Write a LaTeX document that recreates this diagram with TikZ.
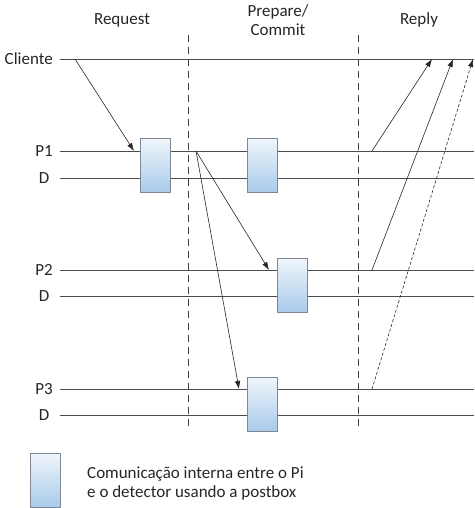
\documentclass[tikz,border=0pt]{standalone}
\usepackage{fontspec}
\setmainfont{Carlito}
\usetikzlibrary{arrows.meta}
\definecolor{boxtop}{HTML}{F0F5FB}
\definecolor{boxbot}{HTML}{A9CBEA}
\definecolor{boxedge}{HTML}{7D8894}
\begin{document}
\begin{tikzpicture}[x=1pt,y=-1pt,
  lbl/.style={font=\fontsize{17}{22}\selectfont, text=black!85, inner sep=0pt},
  tl/.style={draw=black!70, line width=0.8pt},
  sep/.style={draw=black!75, line width=0.9pt, dash pattern=on 7pt off 5pt},
  box/.style={draw=boxedge, line width=0.9pt, top color=boxtop, bottom color=boxbot, minimum width=30pt, minimum height=54pt, inner sep=0pt},
  msg/.style={draw=black!85, line width=0.6pt, -{Latex[length=8pt,width=5.5pt]}},
  ]
\useasboundingbox (0,0) rectangle (474,508);
% headers
\node[lbl] (hreq) at (122,20) {Request};
\node[lbl, align=center, font=\fontsize{17}{19}\selectfont] (hprep) at (278,20) {Prepare/\\Commit};
\node[lbl] (hrep) at (419,20) {Reply};
% separators
\coordinate (s1t) at (188,35); \coordinate (s1b) at (188,430);
\coordinate (s2t) at (358,35); \coordinate (s2b) at (358,430);
\draw[sep] (s1t) -- (s1b);
\draw[sep] (s2t) -- (s2b);
% timelines
\foreach \n/\y/\t in {c/59/Cliente, p1/151/P1, p2/270/P2, p3/389/P3}{
  \node[lbl, anchor=east] (l\n) at (53,\y) {\t};
  \coordinate (\n a) at (60,\y); \coordinate (\n b) at (474,\y);
  \draw[tl] (\n a) -- (\n b);
}
\foreach \n/\y in {d1/178, d2/296, d3/415}{
  \node[lbl, anchor=east] (l\n) at (49.5,\y) {D};
  \coordinate (\n a) at (60,\y); \coordinate (\n b) at (474,\y);
  \draw[tl] (\n a) -- (\n b);
}
% boxes
\node[box] (b1) at (155,165) {};
\node[box] (b2) at (262,165) {};
\node[box] (b3) at (292,285) {};
\node[box] (b4) at (262,404) {};
% messages
\coordinate (m1s) at (75,59);   \coordinate (m1e) at (134,151);
\coordinate (m2s) at (196,151); \coordinate (m2e) at (269,270);
\coordinate (m3e) at (239,389);
\draw[msg] (m1s) -- (m1e);
\draw[msg] (m2s) -- (m2e);
\draw[msg] (m2s) -- (m3e);
\coordinate (r1s) at (372,151); \coordinate (r1e) at (432,59);
\coordinate (r2s) at (372,270); \coordinate (r2e) at (453,59);
\coordinate (r3s) at (372,389); \coordinate (r3e) at (473,59);
\draw[msg] (r1s) -- (r1e);
\draw[msg] (r2s) -- (r2e);
\draw[msg, dash pattern=on 3pt off 2pt] (r3s) -- (r3e);
% legend
\node[box, minimum height=54pt] (lb) at (45,480) {};
\node[lbl, anchor=west, align=left, font=\fontsize{17}{19}\selectfont] (lt) at (87,484) {Comunicação interna entre o Pi\\e o detector usando a postbox};
\end{tikzpicture}
\end{document}
